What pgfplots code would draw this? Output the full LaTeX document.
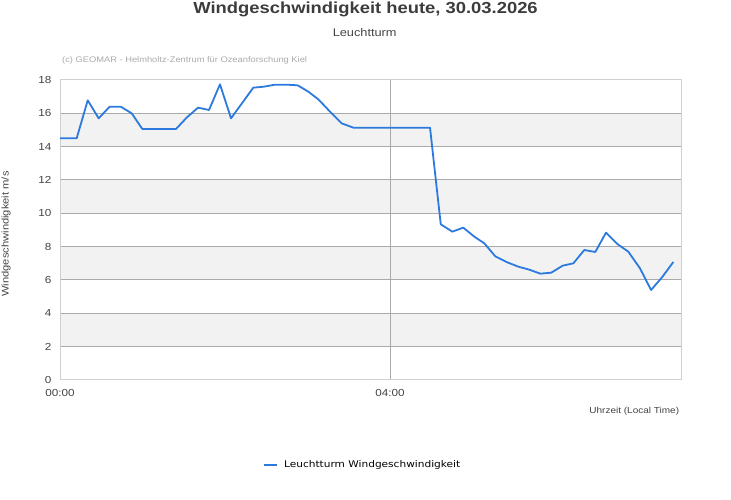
\documentclass[border=0pt]{standalone}
\usepackage{fontspec}
\setmainfont{Liberation Sans}[FakeStretch=1.15]
\newfontfamily\legfont{DejaVu Sans}[FakeStretch=1.15]
\usepackage{pgfplots}
\pgfplotsset{compat=1.18}
\definecolor{linec}{RGB}{44,122,222}
\definecolor{gridc}{RGB}{170,170,170}
\definecolor{bandc}{RGB}{242,242,242}
\definecolor{borderc}{RGB}{208,208,208}
\definecolor{textc}{RGB}{68,68,68}
\definecolor{titlec}{RGB}{60,60,60}
\definecolor{copyc}{RGB}{170,170,170}
\begin{document}
\begin{tikzpicture}
\begin{axis}[
  set layers,
  scale only axis, width=621.5bp, height=300bp,
  at={(60bp,120bp)}, anchor=south west,
  xmin=0, xmax=7.533, ymin=0, ymax=18,
  xtick={0,4}, xticklabels={00:00,04:00},
  ytick={0,2,...,18},
  xmajorgrids, ymajorgrids,
  major grid style={color=gridc, line width=1bp},
  axis line style={color=borderc, line width=1bp},
  tick style={draw=none},
  ticklabel style={font=\fontsize{10.2bp}{12bp}\selectfont, text=textc},
  yticklabel style={inner sep=0pt, xshift=-8.3bp},
  xticklabel style={inner sep=0pt, yshift=-9.3bp},
  /pgf/number format/assume math mode=true,
  legend style={at={(0.3262,-0.2833)}, anchor=west, draw=none, fill=none,
    font=\legfont\fontsize{9.2bp}{11bp}\selectfont, inner sep=0pt},
  legend image code/.code={\draw[linec, line width=2.6bp] (0bp,0bp) -- (13bp,0bp); \path (17bp,0bp);},
]
\addplot[fill=bandc, draw=none, on layer=axis background, forget plot] coordinates {(0,14) (7.533,14) (7.533,16) (0,16) (0,14)};
\addplot[fill=bandc, draw=none, on layer=axis background, forget plot] coordinates {(0,10) (7.533,10) (7.533,12) (0,12) (0,10)};
\addplot[fill=bandc, draw=none, on layer=axis background, forget plot] coordinates {(0,6) (7.533,6) (7.533,8) (0,8) (0,6)};
\addplot[fill=bandc, draw=none, on layer=axis background, forget plot] coordinates {(0,2) (7.533,2) (7.533,4) (0,4) (0,2)};
\addplot[linec, line width=1.8bp, line join=round] table {
x y
0.000 14.50
0.202 14.50
0.336 16.78
0.469 15.70
0.602 16.40
0.736 16.40
0.869 16.00
0.998 15.06
1.406 15.06
1.539 15.76
1.673 16.34
1.806 16.20
1.939 17.74
2.073 15.70
2.343 17.54
2.473 17.60
2.606 17.72
2.748 17.72
2.881 17.68
3.010 17.30
3.131 16.84
3.273 16.10
3.414 15.40
3.555 15.14
4.485 15.14
4.615 9.34
4.755 8.90
4.888 9.14
5.022 8.60
5.143 8.20
5.276 7.42
5.422 7.06
5.555 6.80
5.688 6.62
5.822 6.38
5.955 6.44
6.093 6.86
6.222 7.00
6.355 7.80
6.488 7.68
6.618 8.84
6.755 8.16
6.888 7.70
7.030 6.70
7.164 5.40
7.297 6.16
7.434 7.08
};
\addlegendentry{Leuchtturm Windgeschwindigkeit}
\end{axis}
\path (0bp,0bp) rectangle (731bp,500bp);
\node[anchor=base, inner sep=0pt, font=\bfseries\fontsize{16bp}{18bp}\selectfont, text=titlec] at (365.5bp,486bp) {Windgeschwindigkeit heute, 30.03.2026};
\node[anchor=base, inner sep=0pt, font=\fontsize{11.1bp}{13bp}\selectfont, text=textc] at (364.7bp,463.3bp) {Leuchtturm};
\node[anchor=base west, inner sep=0pt, font=\fontsize{8.1bp}{9bp}\selectfont, text=copyc] at (62bp,437bp) {(c) GEOMAR - Helmholtz-Zentrum für Ozeanforschung Kiel};
\node[anchor=base east, inner sep=0pt, font=\fontsize{8.7bp}{10bp}\selectfont, text=textc] at (679.3bp,86.5bp) {Uhrzeit (Local Time)};
\node[rotate=90, inner sep=0pt, font=\fontsize{9.7bp}{11bp}\selectfont, text=textc] at (6bp,266bp) {Windgeschwindigkeit m/s};
\end{tikzpicture}
\end{document}
